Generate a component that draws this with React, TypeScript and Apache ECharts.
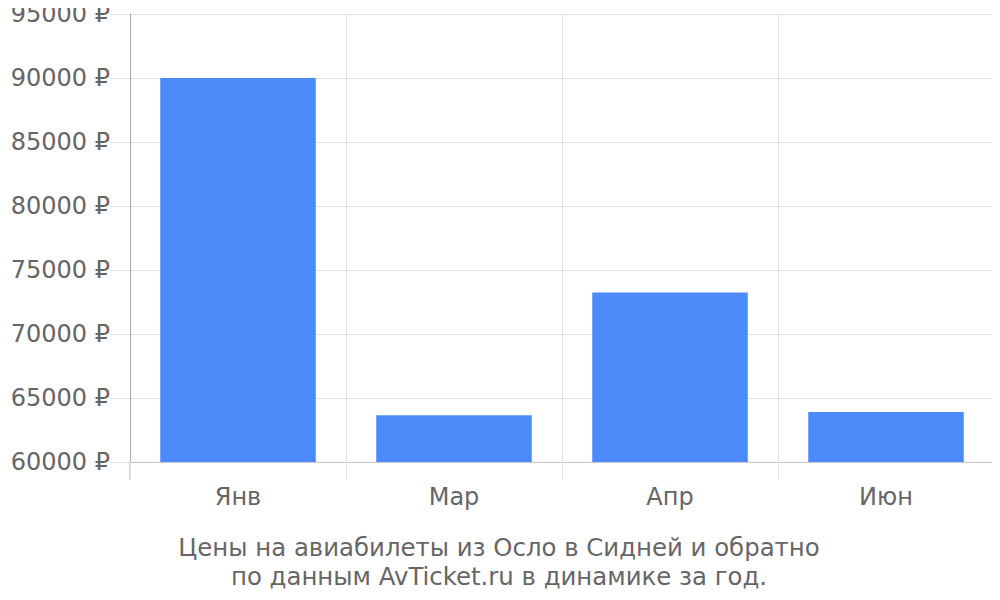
import React, { useEffect, useRef } from "react";
import * as echarts from "echarts";

const categories = ["Янв", "Мар", "Апр", "Июн"];
const prices = [90000, 63650, 73250, 63900];
const yMin = 60000;
const yMax = 95000;
const yStep = 5000;
const titleLines = [
  "Цены на авиабилеты из Осло в Сидней и обратно",
  "по данным AvTicket.ru в динамике за год.",
];

export default function App() {
  const ref = useRef<HTMLDivElement>(null);
  useEffect(() => {
    if (!ref.current) return;
    const chart = echarts.init(ref.current, null, { renderer: "svg" });
    const font = "DejaVu Sans";
    chart.setOption({
      animation: false,
      textStyle: { fontFamily: font },
      title: {
        text: titleLines.join("\n"),
        left: 494,
        top: 528,
        textAlign: "center",
        textStyle: {
          fontFamily: font,
          fontSize: 24.4,
          fontWeight: "normal",
          color: "#666",
          lineHeight: 29,
          align: "center",
        },
      },
      grid: { left: 130, right: 6, top: 14, bottom: 138, containLabel: false },
      xAxis: {
        type: "category",
        data: categories,
        boundaryGap: true,
        axisLine: { show: true, lineStyle: { color: "#c8c8c8", width: 1 } },
        axisTick: {
          show: true,
          length: 18,
          lineStyle: { color: "#e0e0e0" },
        },
        splitLine: { show: true, lineStyle: { color: "#e0e0e0" } },
        axisLabel: { fontSize: 24, color: "#666", margin: 23, fontFamily: font },
      },
      yAxis: {
        type: "value",
        min: yMin,
        max: yMax,
        interval: yStep,
        axisLine: { show: true, lineStyle: { color: "#aaa", width: 1 } },
        axisTick: { show: true, length: 20, lineStyle: { color: "#e0e0e0" } },
        splitLine: { show: true, lineStyle: { color: "#e0e0e0" } },
        axisLabel: {
          fontSize: 24,
          color: "#666",
          margin: 20,
          fontFamily: font,
          formatter: (v: number) => `${v} ₽`,
        },
      },
      series: [
        {
          type: "bar",
          data: prices,
          barCategoryGap: "28%",
          itemStyle: { color: "#4d8af9" },
        },
      ],
      graphic: [
        {
          type: "line",
          shape: { x1: 130, y1: 462, x2: 130, y2: 480 },
          style: { stroke: "#aaa", lineWidth: 1 },
        },
      ],
    });
    return () => chart.dispose();
  }, []);
  return <div ref={ref} style={{ width: 1000, height: 600, margin: -8 }} />;
}
